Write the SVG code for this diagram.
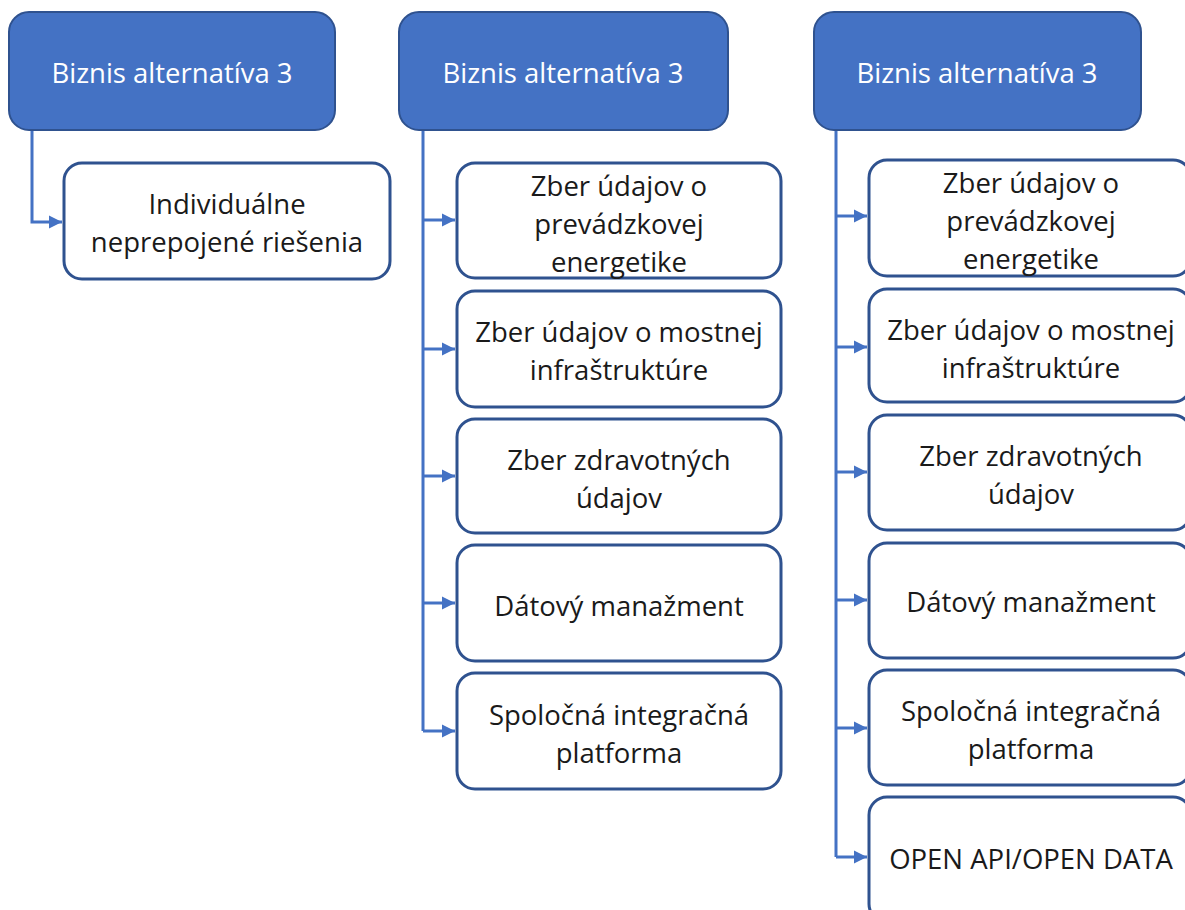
<svg xmlns="http://www.w3.org/2000/svg" width="1185" height="910" viewBox="0 0 1185 910">
<style>
.hdr{fill:#4472C4;stroke:#2F528F;stroke-width:2}
.box{fill:#FFFFFF;stroke:#2F528F;stroke-width:3}
.ht{font-family:"Open Sans","Liberation Sans",Arial,sans-serif;font-size:27.5px;fill:#FFFFFF;text-anchor:middle;dominant-baseline:central}
.bt{font-family:"Open Sans","Liberation Sans",Arial,sans-serif;font-size:27.5px;fill:#1A1A1A;text-anchor:middle;dominant-baseline:central}
.con{fill:none;stroke:#4472C4;stroke-width:3}
</style>
<defs>
<marker id="arr" viewBox="0 0 10 10" refX="10" refY="5" markerWidth="4.5" markerHeight="4.5" orient="auto" markerUnits="strokeWidth">
<path d="M0,0 L10,5 L0,10 z" fill="#4472C4"/>
</marker>
</defs>
<rect width="1185" height="910" fill="#FFFFFF"/>
<g id="connectors">
<path class="con" d="M32,131 V222 H62" marker-end="url(#arr)"/>
<path class="con" d="M423,131 V731"/>
<path class="con" d="M423,220 H455" marker-end="url(#arr)"/>
<path class="con" d="M423,349 H455" marker-end="url(#arr)"/>
<path class="con" d="M423,476 H455" marker-end="url(#arr)"/>
<path class="con" d="M423,603 H455" marker-end="url(#arr)"/>
<path class="con" d="M423,731 H455" marker-end="url(#arr)"/>
<path class="con" d="M836,131 V857"/>
<path class="con" d="M836,216 H867" marker-end="url(#arr)"/>
<path class="con" d="M836,347 H867" marker-end="url(#arr)"/>
<path class="con" d="M836,472 H867" marker-end="url(#arr)"/>
<path class="con" d="M836,600 H867" marker-end="url(#arr)"/>
<path class="con" d="M836,728 H867" marker-end="url(#arr)"/>
<path class="con" d="M836,857 H867" marker-end="url(#arr)"/>
</g>
<g id="h1"><rect class="hdr" x="9" y="12" width="326" height="118" rx="20"/><text class="ht" x="172" y="72">Biznis alternatíva 3</text></g>
<g id="h2"><rect class="hdr" x="399" y="12" width="329" height="118" rx="20"/><text class="ht" x="563" y="72">Biznis alternatíva 3</text></g>
<g id="h3"><rect class="hdr" x="814" y="12" width="327" height="118" rx="20"/><text class="ht" x="977" y="72">Biznis alternatíva 3</text></g>
<g id="a1"><rect class="box" x="64" y="163" width="326" height="116" rx="18"/><text class="bt" x="227" y="203">Individuálne</text><text class="bt" x="227" y="241">neprepojené riešenia</text></g>
<g id="b1"><rect class="box" x="457" y="163" width="324" height="115" rx="18"/><text class="bt" x="619" y="185">Zber údajov o</text><text class="bt" x="619" y="223">prevádzkovej</text><text class="bt" x="619" y="261">energetike</text></g>
<g id="b2"><rect class="box" x="457" y="291" width="324" height="116" rx="18"/><text class="bt" x="619" y="331">Zber údajov o mostnej</text><text class="bt" x="619" y="369">infraštruktúre</text></g>
<g id="b3"><rect class="box" x="457" y="419" width="324" height="114" rx="18"/><text class="bt" x="619" y="459">Zber zdravotných</text><text class="bt" x="619" y="497">údajov</text></g>
<g id="b4"><rect class="box" x="457" y="545" width="324" height="116" rx="18"/><text class="bt" x="619" y="605">Dátový manažment</text></g>
<g id="b5"><rect class="box" x="457" y="673" width="324" height="116" rx="18"/><text class="bt" x="619" y="714">Spoločná integračná</text><text class="bt" x="619" y="752">platforma</text></g>
<g id="c1"><rect class="box" x="869" y="160" width="322" height="116" rx="18"/><text class="bt" x="1031" y="182">Zber údajov o</text><text class="bt" x="1031" y="220">prevádzkovej</text><text class="bt" x="1031" y="258">energetike</text></g>
<g id="c2"><rect class="box" x="869" y="289" width="322" height="113" rx="18"/><text class="bt" x="1031" y="329">Zber údajov o mostnej</text><text class="bt" x="1031" y="367">infraštruktúre</text></g>
<g id="c3"><rect class="box" x="869" y="415" width="322" height="115" rx="18"/><text class="bt" x="1031" y="455">Zber zdravotných</text><text class="bt" x="1031" y="493">údajov</text></g>
<g id="c4"><rect class="box" x="869" y="543" width="322" height="115" rx="18"/><text class="bt" x="1031" y="601">Dátový manažment</text></g>
<g id="c5"><rect class="box" x="869" y="670" width="322" height="115" rx="18"/><text class="bt" x="1031" y="710">Spoločná integračná</text><text class="bt" x="1031" y="748">platforma</text></g>
<g id="c6"><rect class="box" x="869" y="797" width="322" height="125" rx="18"/><text class="bt" x="1031" y="858">OPEN API/OPEN DATA</text></g>
</svg>
